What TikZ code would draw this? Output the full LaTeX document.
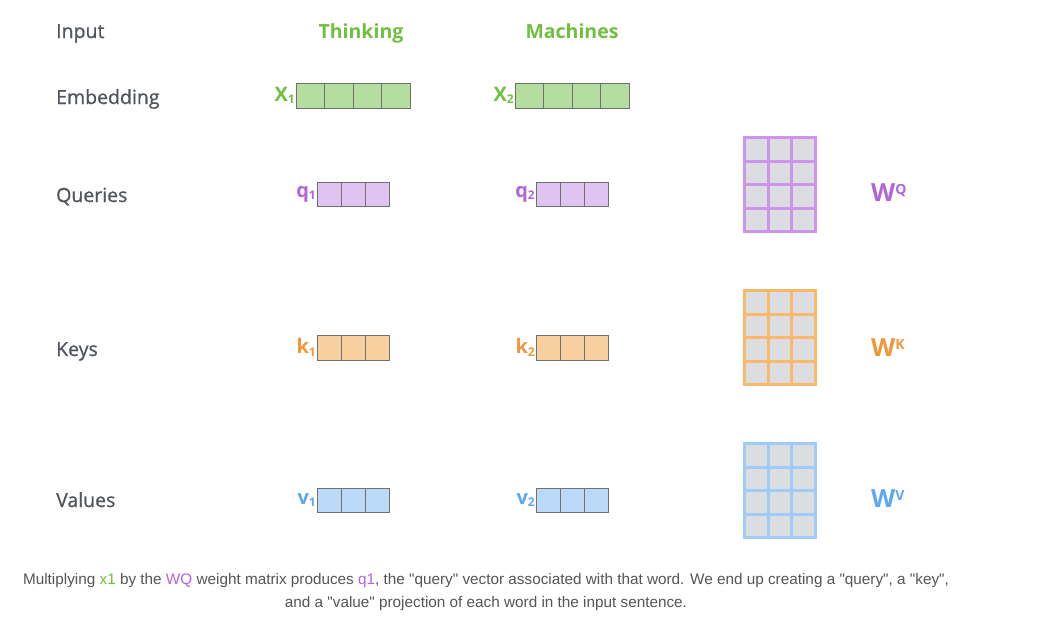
\documentclass[tikz,border=0pt]{standalone}
\usepackage{fontspec}
\setmainfont{Open Sans}
\newfontfamily\capfont{Liberation Sans}
\newfontfamily\lblfont{Open Sans}[FakeBold=0.8]
\definecolor{lbl}{HTML}{50555B}
\definecolor{gtxt}{HTML}{70BF41}
\definecolor{gfill}{HTML}{B3DE9E}
\definecolor{ptxt}{HTML}{B065DB}
\definecolor{pfill}{HTML}{DFC3F1}
\definecolor{pline}{HTML}{CE93EC}
\definecolor{otxt}{HTML}{F0973A}
\definecolor{ofill}{HTML}{FACF9F}
\definecolor{oline}{HTML}{F9B86B}
\definecolor{btxt}{HTML}{5CA9F0}
\definecolor{bfill}{HTML}{BBDAFA}
\definecolor{bline}{HTML}{9ECBF7}
\definecolor{cellgray}{HTML}{DCDDE0}
\definecolor{cellline}{HTML}{707070}
\definecolor{captxt}{HTML}{555555}
\tikzset{
  rowlbl/.style={anchor=base west, text=lbl, font=\lblfont\fontsize{19.5}{22}\selectfont, inner sep=0pt},
  word/.style={anchor=base, text=gtxt, font=\fontsize{19.5}{22}\selectfont\bfseries, inner sep=0pt},
  veclbl/.style={anchor=east, font=\fontsize{20}{22}\selectfont\bfseries, inner sep=1pt},
  mlbl/.style={anchor=west, font=\fontsize{25}{26}\selectfont\bfseries, inner sep=0pt},
}
\newcommand{\mysub}[1]{\raisebox{-0.12em}{\fontsize{12}{14}\selectfont #1}}
\newcommand{\mysup}[1]{\raisebox{0.3em}{\fontsize{14}{16}\selectfont #1}}
% vector: #1 x0, #2 y0, #3 ncells, #4 cell width, #5 height, #6 fill, #7 name
\newcommand{\myvec}[7]{%
  \foreach \i in {1,...,#3} {
    \draw[cellline, line width=1pt, fill=#6] ({#1+(\i-1)*#4},#2) rectangle ++(#4,#5);
  }
  \coordinate (#7) at (#1,{#2+#5/2});
}
% matrix: #1 x0, #2 y0, #3 line color, #4 name
\newcommand{\mymat}[4]{%
  \fill[#3] (#1,#2) rectangle ++(74,97);
  \foreach \c in {0,1,2} {\foreach \r in {0,1,2,3} {
    \fill[cellgray] ({#1+3+\c*23.67},{#2+3+\r*23.5}) rectangle ++(20.67,20.5);
  }}
  \coordinate (#4) at ({#1+74},{#2+48.5});
}
\begin{document}
\begin{tikzpicture}[x=1pt,y=-1pt]
\useasboundingbox (0,0) rectangle (1058,633);
\fill[white] (0,0) rectangle (1058,633);
\node[rowlbl] (in) at (56,38) {Input};
\node[rowlbl] (em) at (56,104) {Embedding};
\node[rowlbl] (qu) at (56,202) {Queries};
\node[rowlbl] (ke) at (56,356) {Keys};
\node[rowlbl] (va) at (56,507) {Values};
\node[word] (w1) at (361,38) {Thinking};
\node[word] (w2) at (572,38) {Machines};
\myvec{296}{83}{4}{28.5}{25}{gfill}{x1}
\myvec{515}{83}{4}{28.5}{25}{gfill}{x2}
\myvec{317}{182}{3}{24}{24}{pfill}{q1}
\myvec{536}{182}{3}{24}{24}{pfill}{q2}
\myvec{317}{335}{3}{24}{25}{ofill}{k1}
\myvec{536}{335}{3}{24}{25}{ofill}{k2}
\myvec{317}{488}{3}{24}{24}{bfill}{v1}
\myvec{536}{488}{3}{24}{24}{bfill}{v2}
\node[veclbl, text=gtxt] (lx1) at (x1) {X\mysub{1}};
\node[veclbl, text=gtxt] (lx2) at (x2) {X\mysub{2}};
\node[veclbl, text=ptxt] (lq1) at (q1) {q\mysub{1}};
\node[veclbl, text=ptxt] (lq2) at (q2) {q\mysub{2}};
\node[veclbl, text=otxt] (lk1) at (k1) {k\mysub{1}};
\node[veclbl, text=otxt] (lk2) at (k2) {k\mysub{2}};
\node[veclbl, text=btxt] (lv1) at (v1) {v\mysub{1}};
\node[veclbl, text=btxt] (lv2) at (v2) {v\mysub{2}};
\mymat{743}{136}{pline}{mq}
\mymat{743}{289}{oline}{mk}
\mymat{743}{442}{bline}{mv}
\node[mlbl, text=ptxt] (wq) at (871,193) {W\mysup{Q}};
\node[mlbl, text=otxt] (wk) at (871,348) {W\mysup{K}};
\node[mlbl, text=btxt] (wv) at (871,499) {W\mysup{V}};
\node[text=captxt, font=\capfont\fontsize{15.3}{23}\selectfont, align=center, inner sep=0pt] (cap) at (486,592)
 {Multiplying \textcolor{gtxt}{x1} by the \textcolor{ptxt}{WQ} weight matrix produces \textcolor{ptxt}{q1}, the "query" vector associated with that word. We end up creating a "query", a "key",\\ and a "value" projection of each word in the input sentence.};
\end{tikzpicture}
\end{document}
